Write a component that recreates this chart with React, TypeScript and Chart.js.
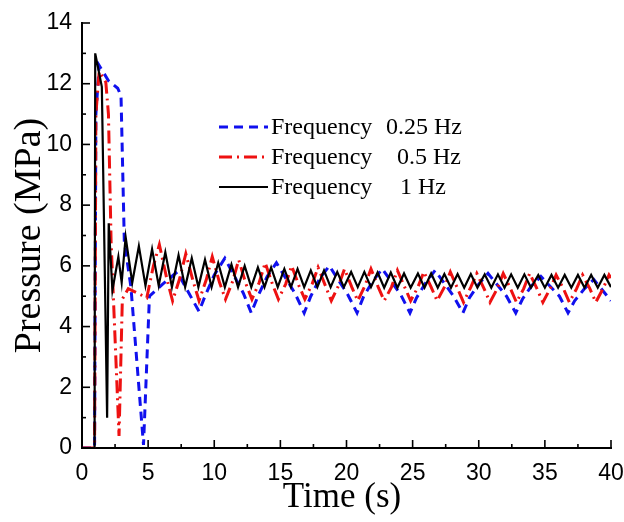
import React, { useEffect, useRef } from "react";
import { Chart, registerables } from "chart.js";

Chart.register(...registerables);

// ---- axis ticks ----
const xTickValues = [0, 5, 10, 15, 20, 25, 30, 35, 40];
const yTickValues = [0, 2, 4, 6, 8, 10, 12, 14];

// ---- legend text ----
const seriesNames = ["Frequency", "Frequency", "Frequency"];
const freqLabels = ["0.25 Hz", "0.5 Hz", "1 Hz"];

// ---- Frequency 0.25 Hz (blue, dashed) ----
const blueTime = [
  0, 0.95, 1.05, 1.3, 2.0, 2.7, 2.95, 3.2, 3.7, 4.65,
  5.1, 6.1, 7.2, 8.4, 8.85, 9.3, 10.0, 10.8,
  12.2, 12.8, 13.3, 14.0, 14.7,
  16.1, 16.8, 17.3, 18.0, 18.7,
  20.1, 20.8, 21.3, 22.0, 22.7,
  24.1, 24.8, 25.3, 26.0, 26.7,
  28.1, 28.8, 29.3, 30.0, 30.7,
  32.1, 32.8, 33.3, 34.0, 34.7,
  36.1, 36.75, 37.25, 38.0, 38.7,
  40,
];
const bluePressure = [
  0, 0, 11.0, 12.6, 12.1, 11.85, 11.6, 6.8, 5.3, 0.1,
  5.0, 5.4, 5.8, 4.85, 4.5, 5.0, 5.7, 6.25,
  5.1, 4.45, 5.0, 5.65, 6.1,
  5.1, 4.45, 5.0, 5.6, 6.0,
  5.05, 4.45, 5.0, 5.5, 5.9,
  5.05, 4.45, 4.95, 5.45, 5.85,
  5.0, 4.45, 4.95, 5.4, 5.75,
  5.0, 4.45, 4.9, 5.35, 5.65,
  5.0, 4.45, 4.85, 5.25, 5.55,
  4.85,
];

// ---- Frequency 0.5 Hz (red, dash-dot) ----
const redTime = [
  0, 0.95, 1.05, 1.3, 1.8, 2.0, 2.2, 2.8, 3.05, 3.5,
  4.2, 4.9, 5.4, 5.85, 6.4, 6.85, 7.4, 7.85, 8.4, 8.85,
  9.4, 9.85, 10.4, 10.85, 11.4, 11.85, 12.4, 12.85, 13.4, 13.85,
  14.4, 14.85, 15.4, 15.85, 16.4, 16.85, 17.4, 17.85, 18.4, 18.85,
  19.4, 19.85, 20.4, 20.85, 21.4, 21.85, 22.4, 22.85, 23.4, 23.85,
  24.4, 24.85, 25.4, 25.85, 26.4, 26.85, 27.4, 27.85, 28.4, 28.85,
  29.4, 29.85, 30.4, 30.85, 31.4, 31.85, 32.4, 32.85, 33.4, 33.85,
  34.4, 34.85, 35.4, 35.85, 36.4, 36.85, 37.4, 37.85, 38.4, 38.85,
  39.4, 39.85, 40,
];
const redPressure = [
  0, 0, 11.0, 12.4, 12.05, 11.0, 6.8, 0.4, 4.9, 5.25,
  5.1, 4.95, 6.0, 6.7, 5.6, 4.85, 5.6, 6.4, 5.5, 4.85,
  5.55, 6.3, 5.45, 4.9, 5.5, 6.2, 5.4, 4.9, 5.45, 6.1,
  5.4, 4.9, 5.4, 6.0, 5.35, 4.9, 5.4, 5.95, 5.35, 4.85,
  5.35, 5.9, 5.3, 4.85, 5.35, 5.9, 5.3, 4.85, 5.3, 5.85,
  5.3, 4.85, 5.3, 5.8, 5.3, 4.85, 5.3, 5.8, 5.25, 4.8,
  5.3, 5.75, 5.25, 4.8, 5.25, 5.75, 5.25, 4.8, 5.25, 5.75,
  5.25, 4.8, 5.25, 5.7, 5.25, 4.8, 5.25, 5.7, 5.25, 4.8,
  5.25, 5.7, 5.6,
];

// ---- Frequency 1 Hz (black, solid) ----
const blackTime = [
  0, 0.95, 1.0, 1.5, 1.9, 2.02, 2.3, 2.75, 3.0, 3.3,
  3.8, 4.3, 4.8, 5.3, 5.8, 6.3, 6.8, 7.3, 7.8, 8.3,
  8.8, 9.3, 9.8, 10.3, 10.8, 11.3, 11.8, 12.3, 12.8, 13.3,
  13.8, 14.3, 14.8, 15.3, 15.8, 16.3, 16.8, 17.3, 17.8, 18.3,
  18.8, 19.3, 19.8, 20.35, 20.85, 21.35, 21.85, 22.35, 22.85, 23.35,
  23.85, 24.35, 24.85, 25.4, 25.9, 26.4, 26.9, 27.4, 27.9, 28.4,
  28.9, 29.4, 29.9, 30.45, 30.95, 31.45, 31.95, 32.45, 32.95, 33.45,
  33.95, 34.5, 35.0, 35.5, 36.0, 36.5, 37.0, 37.5, 38.0, 38.5,
  39.0, 39.5, 40.0,
];
const blackPressure = [
  0, 0, 13.0, 11.9, 1.0, 7.4, 5.2, 6.3, 5.45, 6.95,
  5.45, 6.65, 5.35, 6.55, 5.35, 6.45, 5.3, 6.35, 5.3, 6.25,
  5.3, 6.2, 5.3, 6.1, 5.3, 6.05, 5.3, 6.0, 5.3, 5.95,
  5.3, 5.95, 5.3, 5.9, 5.3, 5.9, 5.3, 5.85, 5.3, 5.85,
  5.3, 5.8, 5.3, 5.8, 5.3, 5.8, 5.3, 5.78, 5.28, 5.78,
  5.28, 5.75, 5.28, 5.75, 5.28, 5.75, 5.28, 5.73, 5.28, 5.73,
  5.28, 5.73, 5.28, 5.72, 5.28, 5.72, 5.28, 5.72, 5.28, 5.72,
  5.28, 5.7, 5.28, 5.7, 5.28, 5.7, 5.28, 5.7, 5.28, 5.7,
  5.28, 5.7, 5.3,
];

const seriesColors = ["#1010ee", "#ee1111", "#000000"];
const seriesDashes = [[9, 6], [13, 5, 2, 5], []];
const seriesWidths = [3, 3, 2.2];

const toPoints = (t: number[], p: number[]) => t.map((v, i) => ({ x: v, y: p[i] }));

const SERIF = "'Liberation Serif', 'Times New Roman', serif";
const SANS = "'Liberation Sans', Arial, sans-serif";

const decorPlugin = {
  id: "decor",
  afterDraw(chart: any) {
    const { ctx, scales, chartArea } = chart;
    const xs = scales.x;
    const ys = scales.y;
    ctx.save();
    ctx.strokeStyle = "#000";
    ctx.lineWidth = 1.6;
    ctx.setLineDash([]);
    // x ticks (inward), major + minor
    for (let i = 0; i < xTickValues.length; i++) {
      const v = xTickValues[i];
      const px = xs.getPixelForValue(v);
      ctx.beginPath();
      ctx.moveTo(px, chartArea.bottom);
      ctx.lineTo(px, chartArea.bottom - 8);
      ctx.stroke();
      if (i < xTickValues.length - 1) {
        const mv = (v + xTickValues[i + 1]) / 2;
        const mpx = xs.getPixelForValue(mv);
        ctx.beginPath();
        ctx.moveTo(mpx, chartArea.bottom);
        ctx.lineTo(mpx, chartArea.bottom - 4);
        ctx.stroke();
      }
    }
    for (let i = 0; i < yTickValues.length; i++) {
      const v = yTickValues[i];
      const py = ys.getPixelForValue(v);
      ctx.beginPath();
      ctx.moveTo(chartArea.left, py);
      ctx.lineTo(chartArea.left + 8, py);
      ctx.stroke();
      if (i < yTickValues.length - 1) {
        const mv = (v + yTickValues[i + 1]) / 2;
        const mpy = ys.getPixelForValue(mv);
        ctx.beginPath();
        ctx.moveTo(chartArea.left, mpy);
        ctx.lineTo(chartArea.left + 4, mpy);
        ctx.stroke();
      }
    }

    // axis titles
    ctx.fillStyle = "#000";
    ctx.textAlign = "center";
    ctx.textBaseline = "middle";
    ctx.font = `35px ${SERIF}`;
    ctx.fillText("Time (s)", 342, 498);
    ctx.save();
    ctx.translate(30, (chartArea.top + chartArea.bottom) / 2);
    ctx.rotate(-Math.PI / 2);
    ctx.font = `38px ${SERIF}`;
    ctx.fillText("Pressure (MPa)", 0, 0);
    ctx.restore();

    // legend
    const rowY = [127, 157, 187];
    const valueX = [386, 397, 400];
    for (let i = 0; i < 3; i++) {
      ctx.save();
      ctx.strokeStyle = seriesColors[i];
      ctx.lineWidth = seriesWidths[i];
      ctx.setLineDash(seriesDashes[i]);
      ctx.beginPath();
      ctx.moveTo(219, rowY[i]);
      ctx.lineTo(268, rowY[i]);
      ctx.stroke();
      ctx.restore();
      ctx.fillStyle = "#000";
      ctx.textAlign = "left";
      ctx.textBaseline = "middle";
      ctx.font = `24px ${SERIF}`;
      ctx.fillText(seriesNames[i], 271, rowY[i] + 1);
      ctx.fillText(freqLabels[i], valueX[i], rowY[i] + 1);
    }
    ctx.restore();
  },
};

export default function App() {
  const canvasRef = useRef<HTMLCanvasElement | null>(null);

  useEffect(() => {
    const canvas = canvasRef.current;
    if (!canvas) return;
    const tickFont = { family: SANS, size: 23 };
    const chart = new Chart(canvas, {
      type: "line",
      data: {
        datasets: [
          {
            label: "Frequency 1 Hz",
            data: toPoints(blackTime, blackPressure),
            borderColor: seriesColors[2],
            borderWidth: seriesWidths[2],
            borderDash: seriesDashes[2],
            pointRadius: 0,
            tension: 0,
            fill: false,
            order: 0,
          },
          {
            label: "Frequency 0.5 Hz",
            data: toPoints(redTime, redPressure),
            borderColor: seriesColors[1],
            borderWidth: seriesWidths[1],
            borderDash: seriesDashes[1],
            pointRadius: 0,
            tension: 0,
            fill: false,
            order: 1,
          },
          {
            label: "Frequency 0.25 Hz",
            data: toPoints(blueTime, bluePressure),
            borderColor: seriesColors[0],
            borderWidth: seriesWidths[0],
            borderDash: seriesDashes[0],
            pointRadius: 0,
            tension: 0,
            fill: false,
            order: 2,
          },
        ],
      },
      options: {
        animation: false,
        responsive: false,
        maintainAspectRatio: false,
        layout: { padding: { top: 23, right: 13, left: 0, bottom: 0 } },
        plugins: {
          legend: { display: false },
          tooltip: { enabled: false },
        },
        scales: {
          x: {
            type: "linear",
            min: 0,
            max: 40,
            afterBuildTicks: (s: any) => {
              s.ticks = xTickValues.map((v) => ({ value: v }));
            },
            ticks: { font: tickFont, color: "#000", padding: 12, maxRotation: 0 },
            grid: { display: false, drawTicks: false },
            border: { display: true, color: "#000", width: 2 },
            afterFit: (s: any) => {
              s.height = 74;
              s.paddingLeft = 0;
              s.paddingRight = 0;
            },
          },
          y: {
            type: "linear",
            min: 0,
            max: 14,
            afterBuildTicks: (s: any) => {
              s.ticks = yTickValues.map((v) => ({ value: v }));
            },
            ticks: { font: tickFont, color: "#000", padding: 10 },
            grid: { display: false, drawTicks: false },
            border: { display: true, color: "#000", width: 2 },
            afterFit: (s: any) => {
              s.width = 82;
              s.paddingTop = 0;
              s.paddingBottom = 0;
            },
          },
        },
      },
      plugins: [decorPlugin],
    } as any);
    return () => chart.destroy();
  }, []);

  return (
    <div style={{ position: "absolute", left: 0, top: 0, width: 624, height: 522, background: "#fff" }}>
      <canvas ref={canvasRef} width={624} height={522} />
    </div>
  );
}
